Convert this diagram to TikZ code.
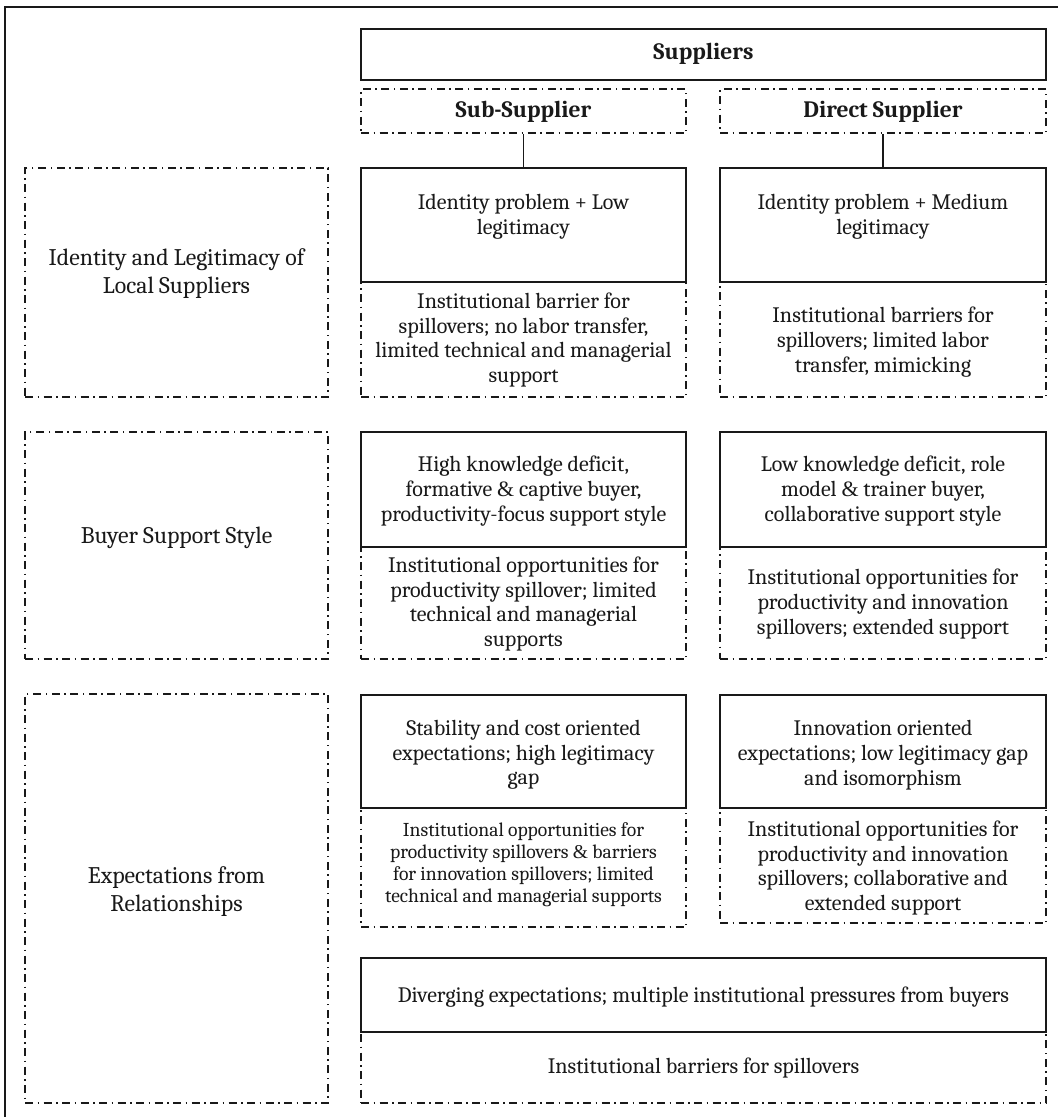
\documentclass[tikz,border=0pt]{standalone}
\usepackage{fontspec}
\setmainfont{Caladea}
\newfontfamily\ampfont{Liberation Serif}
\newcommand{\myamp}{{\ampfont\&}}
\begin{document}
\begin{tikzpicture}[x=1pt,y=-1pt,
  solidbox/.style={draw=black!90,line width=2pt,rectangle,inner sep=0pt},
  dashbox/.style={draw=black!90,line width=1.6pt,rectangle,inner sep=0pt,
    dash pattern=on 8pt off 4.5pt on 1.5pt off 4.5pt},
  txt/.style={inner sep=0pt,align=center,text=black!90,font=\fontsize{22}{24.7}\selectfont},
  bigtxt/.style={txt,font=\fontsize{23.8}{28}\selectfont},
  smalltxt/.style={txt,font=\fontsize{19.6}{22}\selectfont},
  headtxt/.style={txt,font=\bfseries\fontsize{23.5}{27}\selectfont},
  conn/.style={draw=black!90,line width=1.8pt}]
\useasboundingbox (0,0) rectangle (1058,1117);
% outer frame
\draw[line width=2.4pt,black!90] (1060,7) -- (5,7) -- (5,1120);

% dashed boxes first
\node[dashbox,minimum width=325pt,minimum height=44pt] (sub) at (523.5,111) {};
\node[dashbox,minimum width=326pt,minimum height=44pt] (dir) at (883,111) {};
\node[dashbox,minimum width=303pt,minimum height=229pt] (L1) at (176.5,282.5) {};
\node[dashbox,minimum width=303pt,minimum height=227pt] (L2) at (176.5,545.5) {};
\node[dashbox,minimum width=303pt,minimum height=409pt] (L3) at (176.5,898.5) {};
\node[dashbox,minimum width=325pt,minimum height=115pt] (D1a) at (523.5,339.5) {};
\node[dashbox,minimum width=326pt,minimum height=115pt] (D1b) at (883,339.5) {};
\node[dashbox,minimum width=325pt,minimum height=112pt] (D2a) at (523.5,603) {};
\node[dashbox,minimum width=326pt,minimum height=112pt] (D2b) at (883,603) {};
\node[dashbox,minimum width=325pt,minimum height=119pt] (D3a) at (523.5,867.5) {};
\node[dashbox,minimum width=326pt,minimum height=115pt] (D3b) at (883,865.5) {};
\node[dashbox,minimum width=685pt,minimum height=71pt] (D4) at (703.5,1067.5) {};

% solid boxes
\node[solidbox,minimum width=685pt,minimum height=51pt] (sup) at (703.5,54.5) {};
\node[solidbox,minimum width=325pt,minimum height=114pt] (S1a) at (523.5,225) {};
\node[solidbox,minimum width=326pt,minimum height=114pt] (S1b) at (883,225) {};
\node[solidbox,minimum width=325pt,minimum height=115pt] (S2a) at (523.5,489.5) {};
\node[solidbox,minimum width=326pt,minimum height=115pt] (S2b) at (883,489.5) {};
\node[solidbox,minimum width=325pt,minimum height=113pt] (S3a) at (523.5,751.5) {};
\node[solidbox,minimum width=326pt,minimum height=113pt] (S3b) at (883,751.5) {};
\node[solidbox,minimum width=685pt,minimum height=74pt] (S4) at (703.5,995) {};

% connectors
\draw[conn] (sub.south) -- (S1a.north);
\draw[conn] (dir.south) -- (S1b.north);

% texts
\node[headtxt] (tsup) at (703.5,54) {Suppliers};
\node[headtxt] (tsub) at (523.5,112) {Sub-Supplier};
\node[headtxt] (tdir) at (883,112) {Direct Supplier};

\node[bigtxt] (tL1) at (176.5,274) {Identity and Legitimacy of\\Local Suppliers};
\node[bigtxt] (tL2) at (176.5,538) {Buyer Support Style};
\node[bigtxt] (tL3) at (176.5,892) {Expectations from\\Relationships};

\node[txt] (tS1a) at (523.5,217) {Identity problem + Low\\legitimacy};
\node[txt] (tS1b) at (883,217) {Identity problem + Medium\\legitimacy};
\node[txt] (tD1a) at (523.5,340) {Institutional barrier for\\spillovers; no labor transfer,\\limited technical and managerial\\support};
\node[txt] (tD1b) at (883,342) {Institutional barriers for\\spillovers; limited labor\\transfer, mimicking};

\node[txt] (tS2a) at (523.5,491) {High knowledge deficit,\\formative \myamp{} captive buyer,\\productivity-focus support style};
\node[txt] (tS2b) at (883,491) {Low knowledge deficit, role\\model \myamp{} trainer buyer,\\collaborative support style};
\node[txt] (tD2a) at (523.5,604) {Institutional opportunities for\\productivity spillover; limited\\technical and managerial\\supports};
\node[txt] (tD2b) at (883,604) {Institutional opportunities for\\productivity and innovation\\spillovers; extended support};

\node[txt] (tS3a) at (523.5,755) {Stability and cost oriented\\expectations; high legitimacy\\gap};
\node[txt] (tS3b) at (883,755) {Innovation oriented\\expectations; low legitimacy gap\\and isomorphism};
\node[smalltxt] (tD3a) at (523.5,865) {Institutional opportunities for\\productivity spillovers \myamp{} barriers\\for innovation spillovers; limited\\technical and managerial supports};
\node[txt] (tD3b) at (883,868) {Institutional opportunities for\\productivity and innovation\\spillovers; collaborative and\\extended support};

\node[txt] (tS4) at (703.5,997) {Diverging expectations; multiple institutional pressures from buyers};
\node[txt] (tD4) at (703.5,1068) {Institutional barriers for spillovers};
\end{tikzpicture}
\end{document}
